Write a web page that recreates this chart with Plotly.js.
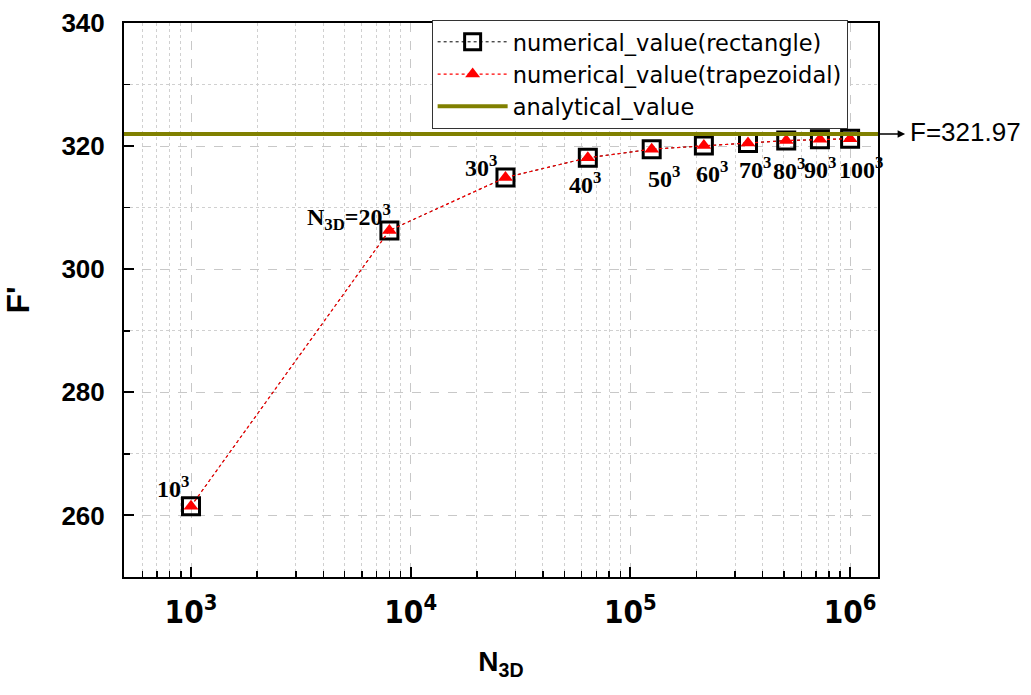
<!DOCTYPE html>
<html>
<head>
<meta charset="utf-8">
<script src="https://cdn.plot.ly/plotly-3.0.1.min.js"></script>
<style>html,body{margin:0;padding:0;background:#fff;}#chart{width:1031px;height:695px;}</style>
</head>
<body>
<div id="chart"></div>
<script>
// ---- data ----
const nSide = [10, 20, 30, 40, 50, 60, 70, 80, 90, 100];
const nTotal = [1000, 8000, 27000, 64000, 125000, 216000, 343000, 512000, 729000, 1000000];
const rectValues = [261.5, 306.3, 314.9, 318.1, 319.5, 320.1, 320.5, 320.9, 321.1, 321.2];
const trapValues = [261.5, 306.3, 314.9, 318.1, 319.5, 320.1, 320.5, 320.9, 321.1, 321.2];
const analyticalValue = 321.97;
const pointLabels = ['10<sup>3</sup>', 'N<sub>3D</sub>=20<sup>3</sup>', '30<sup>3</sup>', '40<sup>3</sup>', '50<sup>3</sup>',
                     '60<sup>3</sup>', '70<sup>3</sup>', '80<sup>3</sup>', '90<sup>3</sup>', '100<sup>3</sup>'];
const seriesNames = ['numerical_value(rectangle)', 'numerical_value(trapezoidal)', 'analytical_value'];

// ---- style / layout ----
const xRangeLog = [2.695, 6.127];
const yRange = [250, 340];
const labelOffsets = [[-18, 19], [-40, 13], [-24, 12], [-3, -25], [12, -28], [8, -26], [7, -25], [3, -28], [0, -29], [11, -29]];

const traces = [
  {
    x: nTotal, y: rectValues, name: seriesNames[0], type: 'scatter', mode: 'lines+markers',
    legendgroup: 'a',
    line: {color: '#000', width: 1, dash: 'dot'},
    marker: {symbol: 'square-open', size: 17, color: '#000', line: {width: 3, color: '#000'}}
  },
  {
    x: nTotal, y: trapValues, name: seriesNames[1], type: 'scatter', mode: 'lines+markers',
    legendgroup: 'b',
    line: {color: '#ff0000', width: 1.2, dash: 'dot'},
    marker: {symbol: 'triangle-up', size: 13, color: '#ff0000'}
  },
  {
    x: [Math.pow(10, xRangeLog[0]), Math.pow(10, xRangeLog[1])],
    y: [analyticalValue, analyticalValue], name: seriesNames[2], type: 'scatter', mode: 'lines',
    legendgroup: 'c',
    line: {color: '#808000', width: 4}
  }
];

const annotations = nTotal.map((xv, i) => ({
  x: Math.log10(xv), y: trapValues[i], xref: 'x', yref: 'y',
  text: pointLabels[i], showarrow: false,
  xshift: labelOffsets[i][0], yshift: labelOffsets[i][1], borderpad: 0,
  font: {family: 'Liberation Serif, Times New Roman, serif', size: 24, color: '#000', weight: 'bold'}
}));
annotations.push({
  x: 1.036, xref: 'paper', y: analyticalValue, yref: 'y', text: '', showarrow: true,
  ax: -28, ay: 0, arrowhead: 2, arrowsize: 1, arrowwidth: 1.5, arrowcolor: '#000', standoff: 0
});
annotations.push({
  x: 1.04, xref: 'paper', y: analyticalValue, yref: 'y', text: 'F=' + analyticalValue,
  showarrow: false, xanchor: 'left', yshift: 2,
  font: {family: 'Liberation Sans, Arial, sans-serif', size: 26, color: '#000'}
});

const layout = {
  width: 1031, height: 695,
  margin: {l: 124, r: 153, t: 23, b: 118},
  paper_bgcolor: '#fff', plot_bgcolor: '#fff',
  showlegend: true,
  legend: {
    x: 0.408, y: 1.006, xanchor: 'left', yanchor: 'top',
    bgcolor: '#fff', bordercolor: '#333', borderwidth: 1,
    font: {family: 'DejaVu Sans, sans-serif', size: 22.5, color: '#000'},
    tracegroupgap: 0, itemwidth: 70
  },
  xaxis: {
    type: 'log', range: xRangeLog, dtick: 1, exponentformat: 'power',
    showline: true, linecolor: '#000', linewidth: 2, mirror: true,
    ticks: 'inside', ticklen: 10, tickwidth: 2, tickcolor: '#000',
    showgrid: true, gridcolor: '#c8c8c8', griddash: 'dash', gridwidth: 1,
    zeroline: false, ticklabelstandoff: 8,
    minor: {ticks: 'inside', ticklen: 6, tickwidth: 1.5, tickcolor: '#000', showgrid: true, gridcolor: '#d0d0d0', griddash: 'dot', dtick: 'D1'},
    tickfont: {family: 'DejaVu Sans Condensed, Liberation Sans Narrow, Liberation Sans, sans-serif', size: 25, color: '#000', weight: 'bold'},
    title: {text: 'N<sub>3D</sub>', standoff: 22, font: {family: 'Liberation Sans, Arial, sans-serif', size: 28, color: '#000', weight: 'bold'}}
  },
  yaxis: {
    range: yRange, dtick: 20, tick0: 0,
    showline: true, linecolor: '#000', linewidth: 2, mirror: true,
    ticks: 'inside', ticklen: 10, tickwidth: 2, tickcolor: '#000',
    showgrid: true, gridcolor: '#c8c8c8', griddash: 'dash', gridwidth: 1,
    zeroline: false, ticklabelstandoff: 12,
    minor: {ticks: 'inside', ticklen: 6, tickwidth: 1.5, tickcolor: '#000', showgrid: true, gridcolor: '#d0d0d0', griddash: 'dot', dtick: 10},
    tickfont: {family: 'Liberation Sans, Arial, sans-serif', size: 26, color: '#000', weight: 'bold'},
    title: {text: "F'", standoff: 24, font: {family: 'Liberation Sans, Arial, sans-serif', size: 32, color: '#000', weight: 'bold'}}
  },
  annotations: annotations
};

Plotly.newPlot('chart', traces, layout, {displayModeBar: false, staticPlot: true});
</script>
</body>
</html>
